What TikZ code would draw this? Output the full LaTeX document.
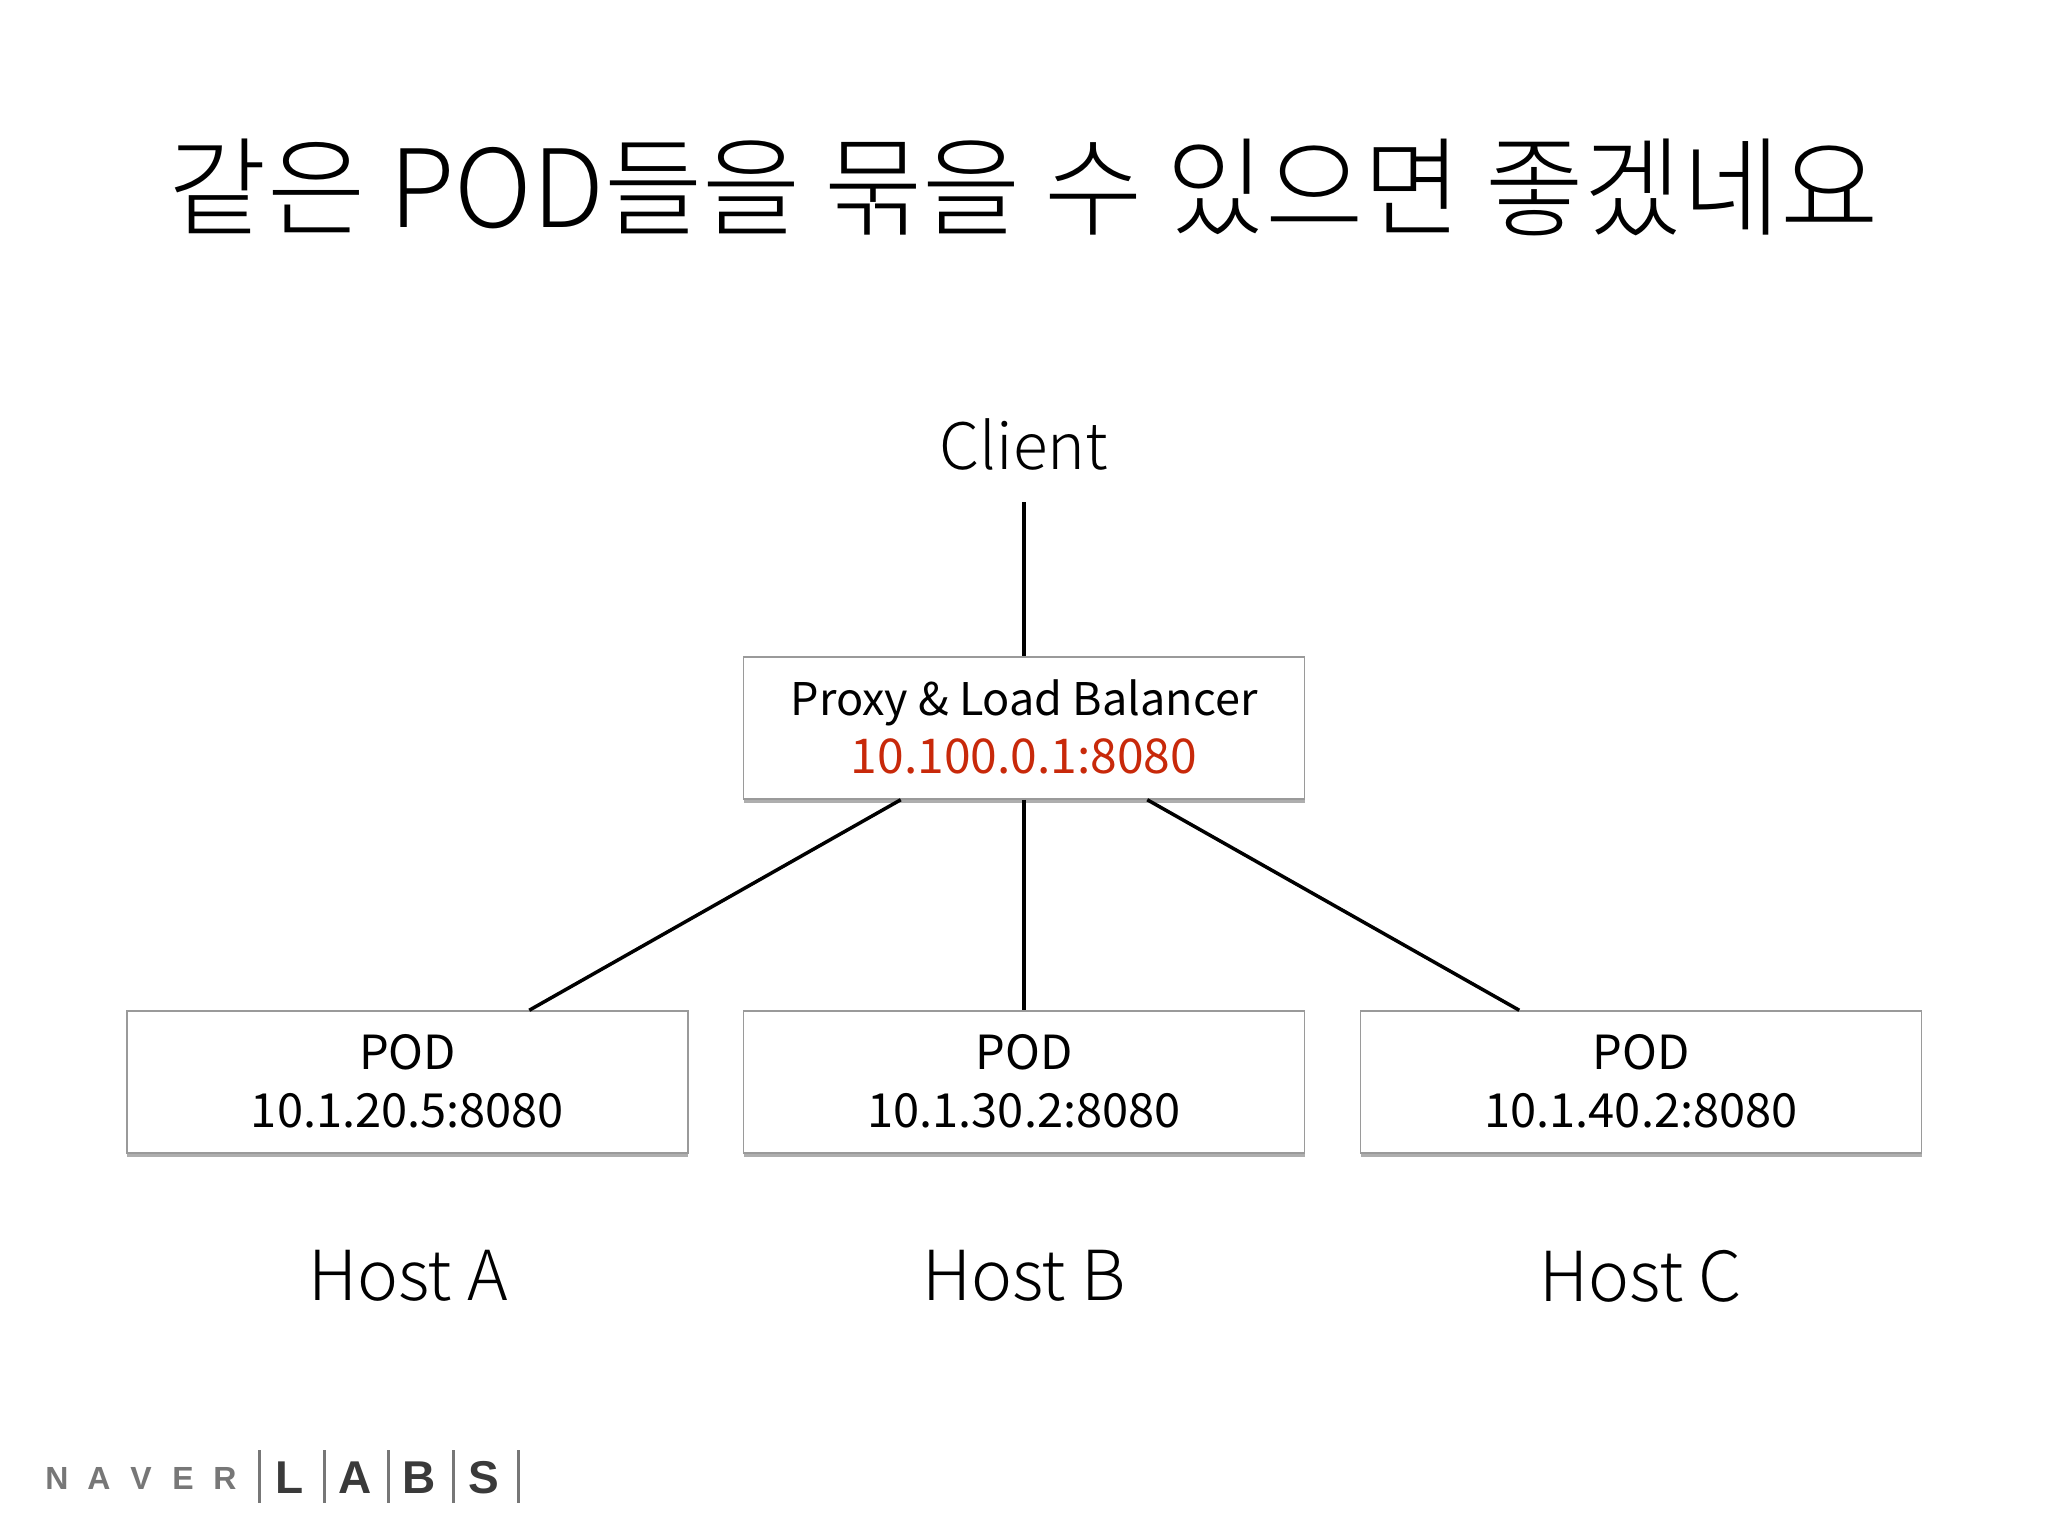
\documentclass[tikz,border=0pt]{standalone}
\usepackage{fontspec}
\setmainfont{Noto Sans CJK KR Light}
\newfontfamily\bodyfont{Noto Sans CJK KR}
\newfontfamily\logofont{Liberation Sans}
\usetikzlibrary{shadows}
\definecolor{boxedge}{HTML}{9A9A9A}
\definecolor{ipred}{HTML}{C8290A}
\definecolor{logogrey}{HTML}{777777}
\definecolor{logodark}{HTML}{3A3A3A}
\newcommand{\liftline}[1]{\raisebox{2.5pt}{#1}}
\tikzset{
  x=1pt,y=-1pt,
  boxnode/.style={draw=boxedge,line width=1.5pt,fill=white,minimum width=561pt,minimum height=142pt,inner sep=0pt,align=center,
    font=\bodyfont\fontsize{47}{58}\selectfont,drop shadow={shadow xshift=0pt,shadow yshift=-4pt,opacity=.45,fill=black!70}},
  hostlabel/.style={font=\fontsize{69}{72}\selectfont,inner sep=0pt},
  wire/.style={draw=black,line width=3.5pt},
  logoa/.style={font=\logofont\bfseries\fontsize{32}{32}\selectfont,text=logogrey,inner sep=0pt},
  logob/.style={font=\logofont\bfseries\fontsize{46}{46}\selectfont,text=logodark,inner sep=0pt},
  logobar/.style={draw=logogrey,line width=3pt}
}
\begin{document}
\begin{tikzpicture}
\useasboundingbox[fill=white] (0,0) rectangle (2048,1536);
\node[inner sep=0pt,font=\fontsize{108}{120}\selectfont] (title) at (1024,187) {\scalebox{0.99}[1]{같은 POD들을 묶을 수 있으면 좋겠네요}};
\node[hostlabel,minimum height=116pt,font=\fontsize{64}{70}\selectfont] (client) at (1024,444) {Client};
\node[boxnode] (proxy) at (1024,728) {\liftline{\raisebox{2pt}{\fontsize{45}{58}\selectfont Proxy \& Load Balancer}}\\[-2pt]\liftline{\textcolor{ipred}{\fontsize{48}{58}\selectfont 10.100.0.1:8080}}};
\node[boxnode] (poda) at (407.5,1082) {\liftline{POD}\\\liftline{10.1.20.5:8080}};
\node[boxnode] (podb) at (1024,1082) {\liftline{POD}\\\liftline{10.1.30.2:8080}};
\node[boxnode] (podc) at (1641,1082) {\liftline{POD}\\\liftline{10.1.40.2:8080}};
\node[hostlabel] (hosta) at (408,1276) {Host A};
\node[hostlabel] (hostb) at (1024,1276) {Host B};
\node[hostlabel] (hostc) at (1641,1276) {Host C};
\draw[wire] (client.south) -- (proxy.north);
\draw[wire] (proxy.south) -- (podb.north);
\draw[wire] ([xshift=158pt]proxy.south west) -- ([xshift=403pt]poda.north west);
\draw[wire] ([xshift=-158pt]proxy.south east) -- ([xshift=-403pt]podc.north east);
\node[logoa] (ln) at (57,1478) {N};
\node[logoa] (la) at (99,1478) {A};
\node[logoa] (lv) at (141,1478) {V};
\node[logoa] (le) at (183,1478) {E};
\node[logoa] (lr) at (225,1478) {R};
\node[logob] (ll) at (290,1478) {L};
\node[logob] (lb) at (355,1478) {A};
\node[logob] (lc) at (419,1478) {B};
\node[logob] (ls) at (484,1478) {S};
\coordinate (b1t) at (259,1450); \coordinate (b1b) at (259,1503);
\coordinate (b2t) at (324,1450); \coordinate (b2b) at (324,1503);
\coordinate (b3t) at (388,1450); \coordinate (b3b) at (388,1503);
\coordinate (b4t) at (453,1450); \coordinate (b4b) at (453,1503);
\coordinate (b5t) at (518,1450); \coordinate (b5b) at (518,1503);
\draw[logobar] (b1t) -- (b1b);
\draw[logobar] (b2t) -- (b2b);
\draw[logobar] (b3t) -- (b3b);
\draw[logobar] (b4t) -- (b4b);
\draw[logobar] (b5t) -- (b5b);
\end{tikzpicture}
\end{document}
